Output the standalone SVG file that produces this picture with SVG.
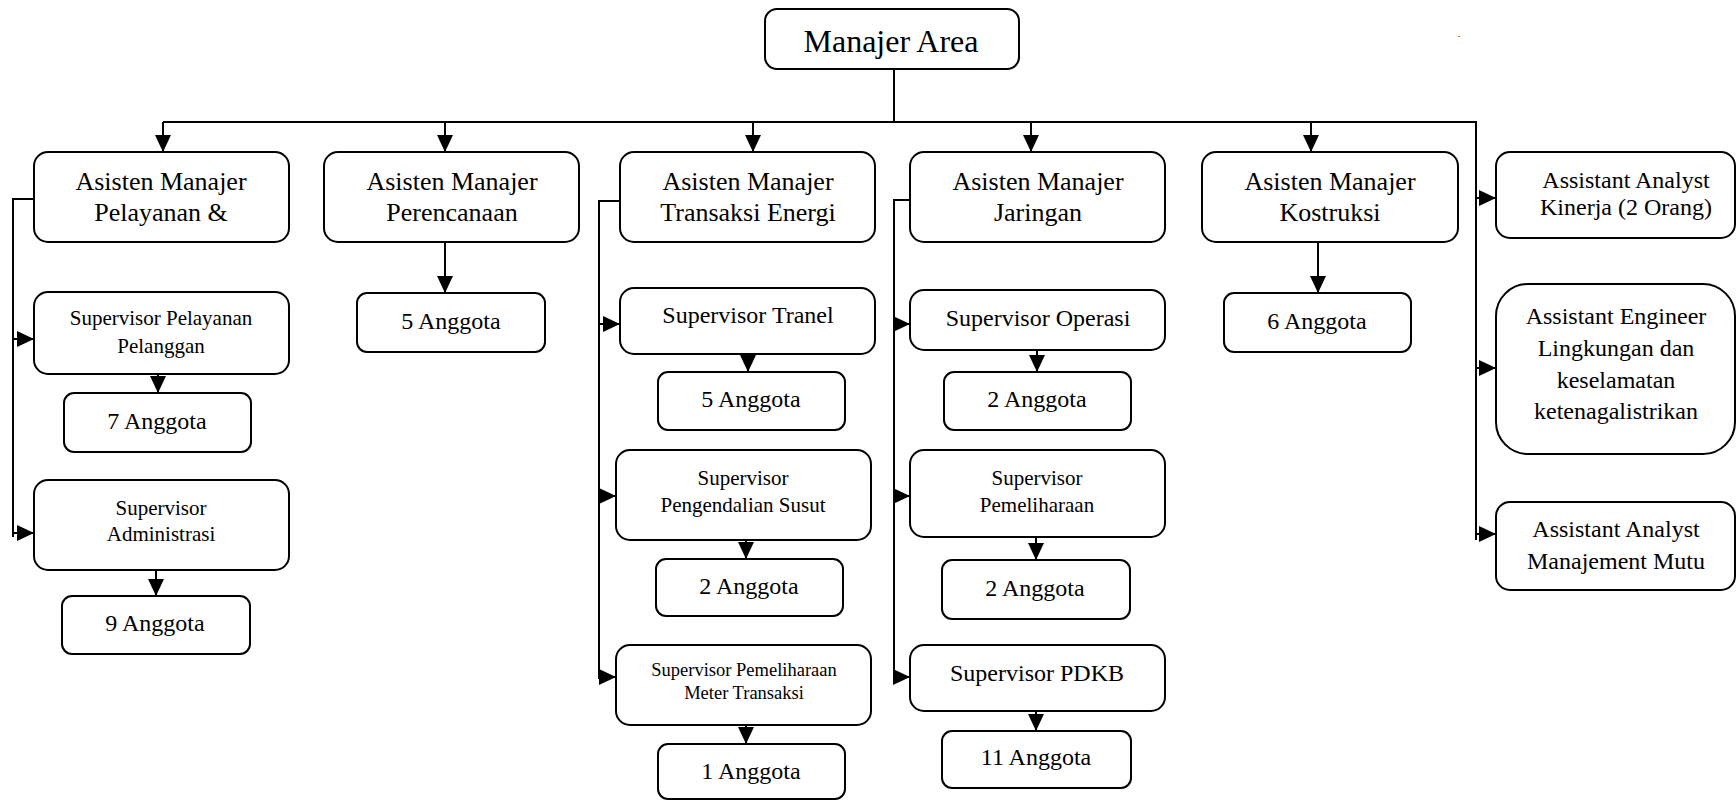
<svg xmlns="http://www.w3.org/2000/svg" width="1736" height="800" viewBox="0 0 1736 800">
<style>
.b{fill:#fff;stroke:#000;stroke-width:2}
.c{fill:none;stroke:#000;stroke-width:2}
.a{fill:none;stroke:#000;stroke-width:2;marker-end:url(#ah)}
text{font-family:"Liberation Serif","Times New Roman",serif;text-anchor:middle;fill:#000}
.t32{font-size:32px}.t26{font-size:26px}.t24{font-size:24px}.t21{font-size:21px}.t18{font-size:18.5px}
</style>
<defs>
<marker id="ah" markerUnits="userSpaceOnUse" markerWidth="17" markerHeight="16" refX="17" refY="8" orient="auto"><path d="M0,0 L17,8 L0,16 z" fill="#000"/></marker>
</defs>
<rect width="1736" height="800" fill="#fff"/>
<g id="connectors">
<path class="c" d="M894,69 V122 M163,122 H1476 V540"/>
<path class="a" d="M163,122 V152"/>
<path class="a" d="M445,122 V152"/>
<path class="a" d="M753,122 V152"/>
<path class="a" d="M1031,122 V152"/>
<path class="a" d="M1311,122 V152"/>
<path class="a" d="M1476,198 H1496"/>
<path class="a" d="M1476,368 H1496"/>
<path class="a" d="M1476,534 H1496"/>
<path class="c" d="M34,199 H13 V537"/>
<path class="a" d="M13,339 H34"/>
<path class="a" d="M13,533 H34"/>
<path class="a" d="M158,370 V393"/>
<path class="a" d="M156,568 V596"/>
<path class="a" d="M445,242 V293"/>
<path class="c" d="M620,201 H599 V679"/>
<path class="a" d="M599,324 H620"/>
<path class="a" d="M599,496 H616"/>
<path class="a" d="M599,677 H616"/>
<path class="a" d="M748,350 V372"/>
<path class="a" d="M746,536 V559"/>
<path class="a" d="M746,721 V744"/>
<path class="c" d="M910,200 H894 V682"/>
<path class="a" d="M894,324 H910"/>
<path class="a" d="M894,496 H910"/>
<path class="a" d="M894,677 H910"/>
<path class="a" d="M1037,348 V372"/>
<path class="a" d="M1036,535 V560"/>
<path class="a" d="M1036,707 V731"/>
<path class="a" d="M1318,242 V293"/>
</g>
<g id="manajer-area"><rect class="b" x="765" y="9" width="254" height="60" rx="12"/><text class="t32" x="891" y="52">Manajer Area</text></g>
<g id="am-pelayanan"><rect class="b" x="34" y="152" width="255" height="90" rx="14"/><text class="t26" x="161" y="190">Asisten Manajer</text><text class="t26" x="161" y="221">Pelayanan &amp;</text></g>
<g id="am-perencanaan"><rect class="b" x="324" y="152" width="255" height="90" rx="14"/><text class="t26" x="452" y="190">Asisten Manajer</text><text class="t26" x="452" y="221">Perencanaan</text></g>
<g id="am-transaksi"><rect class="b" x="620" y="152" width="255" height="90" rx="14"/><text class="t26" x="748" y="190">Asisten Manajer</text><text class="t26" x="748" y="221">Transaksi Energi</text></g>
<g id="am-jaringan"><rect class="b" x="910" y="152" width="255" height="90" rx="14"/><text class="t26" x="1038" y="190">Asisten Manajer</text><text class="t26" x="1038" y="221">Jaringan</text></g>
<g id="am-kostruksi"><rect class="b" x="1202" y="152" width="256" height="90" rx="14"/><text class="t26" x="1330" y="190">Asisten Manajer</text><text class="t26" x="1330" y="221">Kostruksi</text></g>
<g id="aa-kinerja"><rect class="b" x="1496" y="152" width="239" height="86" rx="14"/><text class="t24" x="1626" y="188">Assistant Analyst</text><text class="t24" x="1626" y="215">Kinerja (2 Orang)</text></g>
<g id="ae-lingkungan"><rect class="b" x="1496" y="284" width="239" height="170" rx="32"/><text class="t24" x="1616" y="324">Assistant Engineer</text><text class="t24" x="1616" y="356">Lingkungan dan</text><text class="t24" x="1616" y="388">keselamatan</text><text class="t24" x="1616" y="419">ketenagalistrikan</text></g>
<g id="aa-mutu"><rect class="b" x="1496" y="502" width="239" height="88" rx="14"/><text class="t24" x="1616" y="537">Assistant Analyst</text><text class="t24" x="1616" y="569">Manajement Mutu</text></g>
<g id="sup-pelanggan"><rect class="b" x="34" y="292" width="255" height="82" rx="14"/><text class="t21" x="161" y="325">Supervisor Pelayanan</text><text class="t21" x="161" y="353">Pelanggan</text></g>
<g id="ang-7"><rect class="b" x="64" y="393" width="187" height="59" rx="10"/><text class="t24" x="157" y="429">7 Anggota</text></g>
<g id="sup-admin"><rect class="b" x="34" y="480" width="255" height="90" rx="14"/><text class="t21" x="161" y="515">Supervisor</text><text class="t21" x="161" y="541">Administrasi</text></g>
<g id="ang-9"><rect class="b" x="62" y="596" width="188" height="58" rx="10"/><text class="t24" x="155" y="631">9 Anggota</text></g>
<g id="ang-5p"><rect class="b" x="357" y="293" width="188" height="59" rx="10"/><text class="t24" x="451" y="329">5 Anggota</text></g>
<g id="sup-tranel"><rect class="b" x="620" y="288" width="255" height="66" rx="14"/><text class="t24" x="748" y="323">Supervisor Tranel</text></g>
<g id="ang-5t"><rect class="b" x="658" y="372" width="187" height="58" rx="10"/><text class="t24" x="751" y="407">5 Anggota</text></g>
<g id="sup-susut"><rect class="b" x="616" y="450" width="255" height="90" rx="14"/><text class="t21" x="743" y="485">Supervisor</text><text class="t21" x="743" y="512">Pengendalian Susut</text></g>
<g id="ang-2t"><rect class="b" x="656" y="559" width="187" height="57" rx="10"/><text class="t24" x="749" y="594">2 Anggota</text></g>
<g id="sup-meter"><rect class="b" x="616" y="645" width="255" height="80" rx="14"/><text class="t18" x="744" y="676">Supervisor Pemeliharaan</text><text class="t18" x="744" y="699">Meter Transaksi</text></g>
<g id="ang-1"><rect class="b" x="658" y="744" width="187" height="55" rx="10"/><text class="t24" x="751" y="779">1 Anggota</text></g>
<g id="sup-operasi"><rect class="b" x="910" y="290" width="255" height="60" rx="14"/><text class="t24" x="1038" y="326">Supervisor Operasi</text></g>
<g id="ang-2j1"><rect class="b" x="944" y="372" width="187" height="58" rx="10"/><text class="t24" x="1037" y="407">2 Anggota</text></g>
<g id="sup-pemeliharaan"><rect class="b" x="910" y="450" width="255" height="87" rx="14"/><text class="t21" x="1037" y="485">Supervisor</text><text class="t21" x="1037" y="512">Pemeliharaan</text></g>
<g id="ang-2j2"><rect class="b" x="942" y="560" width="188" height="59" rx="10"/><text class="t24" x="1035" y="596">2 Anggota</text></g>
<g id="sup-pdkb"><rect class="b" x="910" y="645" width="255" height="66" rx="14"/><text class="t24" x="1037" y="681">Supervisor PDKB</text></g>
<g id="ang-11"><rect class="b" x="942" y="731" width="189" height="57" rx="10"/><text class="t24" x="1036" y="765">11 Anggota</text></g>
<g id="ang-6"><rect class="b" x="1224" y="293" width="187" height="59" rx="10"/><text class="t24" x="1317" y="329">6 Anggota</text></g>
<text x="1459" y="37" style="font-size:10px">.</text>
</svg>
